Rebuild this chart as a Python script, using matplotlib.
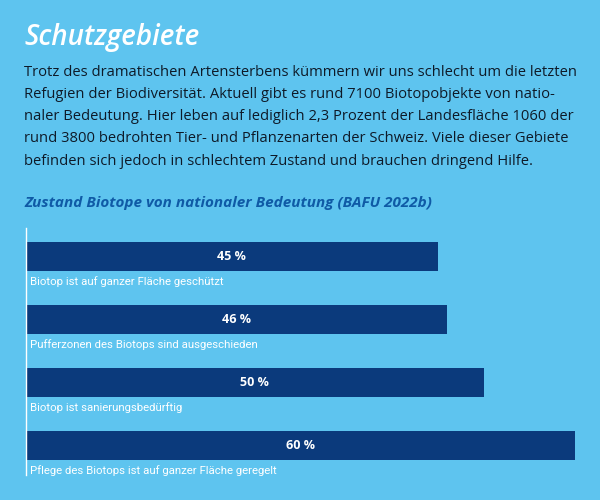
import matplotlib
matplotlib.use("Agg")
import matplotlib.pyplot as plt

# data
categories = [
    "Biotop ist auf ganzer Fläche geschützt",
    "Pufferzonen des Biotops sind ausgeschieden",
    "Biotop ist sanierungsbedürftig",
    "Pflege des Biotops ist auf ganzer Fläche geregelt",
]
values = [45, 46, 50, 60]

title = "Schutzgebiete"
intro = ("Trotz des dramatischen Artensterbens kümmern wir uns schlecht um die letzten\n"
         "Refugien der Biodiversität. Aktuell gibt es rund 7100 Biotopobjekte von natio-\n"
         "naler Bedeutung. Hier leben auf lediglich 2,3 Prozent der Landesfläche 1060 der\n"
         "rund 3800 bedrohten Tier- und Pflanzenarten der Schweiz. Viele dieser Gebiete\n"
         "befinden sich jedoch in schlechtem Zustand und brauchen dringend Hilfe.")
chart_title = "Zustand Biotope von nationaler Bedeutung (BAFU 2022b)"

bg = "#5ec4ef"
navy = "#0b3a7c"

plt.rcParams['font.family'] = ['Open Sans', 'DejaVu Sans']

fig = plt.figure(figsize=(6, 5), dpi=100, facecolor=bg)

fig.text(24 / 600, 1 - 38 / 500, title, color="white", fontsize=20,
         fontstyle="italic", fontweight="semibold", va="center", ha="left")
fig.text(24 / 600, 1 - 64.5 / 500, intro, color="#0e1a28", fontsize=10.65,
         va="top", ha="left", linespacing=1.66)
fig.text(24 / 600, 1 - 203 / 500, chart_title, color="#0f5aa6", fontsize=11,
         fontstyle="italic", fontweight="bold", va="center", ha="left")

# axes spanning x 26..575 px, y 228..475 px
ax = fig.add_axes([26 / 600, 25 / 500, 549 / 600, 247 / 500])
ax.set_facecolor("none")
ypos = list(range(len(values)))
ax.barh(ypos, values, height=0.46, color=navy)
ax.set_xlim(0, 60)
ax.set_ylim(3.468, -0.452)
for y, v, c in zip(ypos, values, categories):
    ax.text(v / 2, y, f"{v} %", color="white", fontsize=9, fontweight="bold",
            ha="center", va="center")
    ax.text(0.45, y + 0.40, c, color="white", fontsize=8.2,
            ha="left", va="center", family=['Roboto', 'DejaVu Sans'])
for s in ["top", "right", "bottom"]:
    ax.spines[s].set_visible(False)
ax.spines["left"].set_color("white")
ax.spines["left"].set_linewidth(1)
ax.set_xticks([])
ax.set_yticks([])

fig.savefig("out.png", dpi=100, facecolor=bg)
